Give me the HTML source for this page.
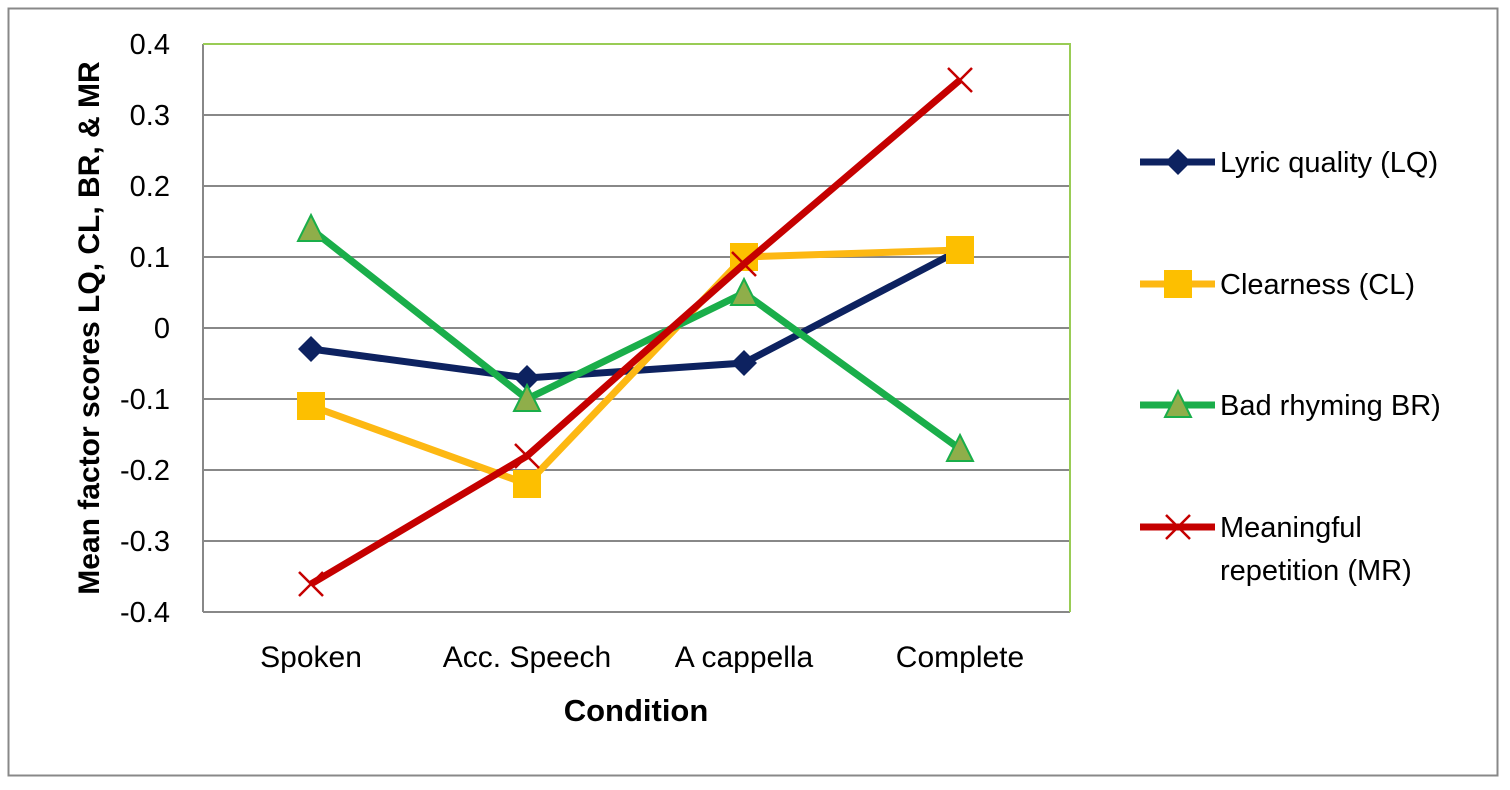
<!DOCTYPE html>
<html><head><meta charset="utf-8"><style>
body{margin:0;background:#fff}
svg text{font-family:"Liberation Sans",sans-serif}
</style></head><body>
<svg width="1510" height="785" viewBox="0 0 1510 785" xmlns="http://www.w3.org/2000/svg">
<rect x="0" y="0" width="1510" height="785" fill="#fff"/>
<rect x="8.5" y="8.5" width="1489" height="767" fill="none" stroke="#888" stroke-width="2"/>
<g stroke="#888" stroke-width="2">
<line x1="203" y1="115" x2="1070" y2="115"/>
<line x1="203" y1="186" x2="1070" y2="186"/>
<line x1="203" y1="257" x2="1070" y2="257"/>
<line x1="203" y1="328" x2="1070" y2="328"/>
<line x1="203" y1="399" x2="1070" y2="399"/>
<line x1="203" y1="470" x2="1070" y2="470"/>
<line x1="203" y1="541" x2="1070" y2="541"/>
<line x1="203" y1="612" x2="1070" y2="612"/>
<line x1="203" y1="44" x2="203" y2="612"/>
</g>
<polyline points="203,44 1070,44 1070,612" fill="none" stroke="#9c5" stroke-width="2"/>
<g font-size="29" text-anchor="end" fill="#000">
<text x="170" y="54">0.4</text><text x="170" y="125">0.3</text><text x="170" y="196">0.2</text>
<text x="170" y="267">0.1</text><text x="170" y="338">0</text><text x="170" y="409">-0.1</text>
<text x="170" y="480">-0.2</text><text x="170" y="551">-0.3</text><text x="170" y="622">-0.4</text>
</g>
<g font-size="30" text-anchor="middle">
<text x="311" y="667">Spoken</text><text x="527" y="667">Acc. Speech</text>
<text x="744" y="667">A cappella</text><text x="960" y="667">Complete</text>
</g>
<text x="636" y="721" font-size="31" font-weight="bold" text-anchor="middle">Condition</text>
<text transform="translate(99,328) rotate(-90)" font-size="30" font-weight="bold" text-anchor="middle">Mean factor scores LQ, CL, BR, &amp; MR</text>
<!-- LQ -->
<polyline points="311,349 527,378 744,363 960,250" fill="none" stroke="#0d2260" stroke-width="7"/>
<g fill="#0d2260">
<path d="M311,336 l13,13 l-13,13 l-13,-13z"/><path d="M527,365 l13,13 l-13,13 l-13,-13z"/>
<path d="M744,350 l13,13 l-13,13 l-13,-13z"/><path d="M960,237 l13,13 l-13,13 l-13,-13z"/>
</g>
<!-- CL -->
<polyline points="311,406 527,484 744,257 960,250" fill="none" stroke="#fdb813" stroke-width="7"/>
<g fill="#fdbf00">
<rect x="297" y="392" width="28" height="28"/><rect x="513" y="470" width="28" height="28"/>
<rect x="730" y="243" width="28" height="28"/><rect x="946" y="236" width="28" height="28"/>
</g>
<!-- BR -->
<polyline points="311,229 527,399 744,293 960,449" fill="none" stroke="#1aae4a" stroke-width="7"/>
<g fill="#8fae4a" stroke="#1aae4a" stroke-width="2">
<path d="M311,215 l13,26 h-26z"/><path d="M527,385 l13,26 h-26z"/>
<path d="M744,279 l13,26 h-26z"/><path d="M960,435 l13,26 h-26z"/>
</g>
<!-- MR -->
<polyline points="311,584 527,456 744,264 960,80" fill="none" stroke="#c50000" stroke-width="7"/>
<g stroke="#c50000" stroke-width="2.5">
<path d="M299,572 l24,24 M323,572 l-24,24"/><path d="M515,444 l24,24 M539,444 l-24,24"/>
<path d="M732,252 l24,24 M756,252 l-24,24"/><path d="M948,68 l24,24 M972,68 l-24,24"/>
</g>
<!-- Legend -->
<line x1="1140" y1="162" x2="1215" y2="162" stroke="#0d2260" stroke-width="7"/>
<path d="M1178,149 l13,13 l-13,13 l-13,-13z" fill="#0d2260"/>
<text x="1220" y="172" font-size="29">Lyric quality (LQ)</text>
<line x1="1140" y1="284" x2="1215" y2="284" stroke="#fdb813" stroke-width="7"/>
<rect x="1164" y="270" width="28" height="28" fill="#fdbf00"/>
<text x="1220" y="294" font-size="29">Clearness (CL)</text>
<line x1="1140" y1="405" x2="1215" y2="405" stroke="#1aae4a" stroke-width="7"/>
<path d="M1178,391 l13,26 h-26z" fill="#8fae4a" stroke="#1aae4a" stroke-width="2"/>
<text x="1220" y="415" font-size="29">Bad rhyming BR)</text>
<line x1="1140" y1="527" x2="1215" y2="527" stroke="#c50000" stroke-width="7"/>
<path d="M1166,515 l24,24 M1190,515 l-24,24" stroke="#c50000" stroke-width="2.5"/>
<text x="1220" y="537" font-size="29">Meaningful</text>
<text x="1220" y="580" font-size="29">repetition (MR)</text>
</svg>
</body></html>
